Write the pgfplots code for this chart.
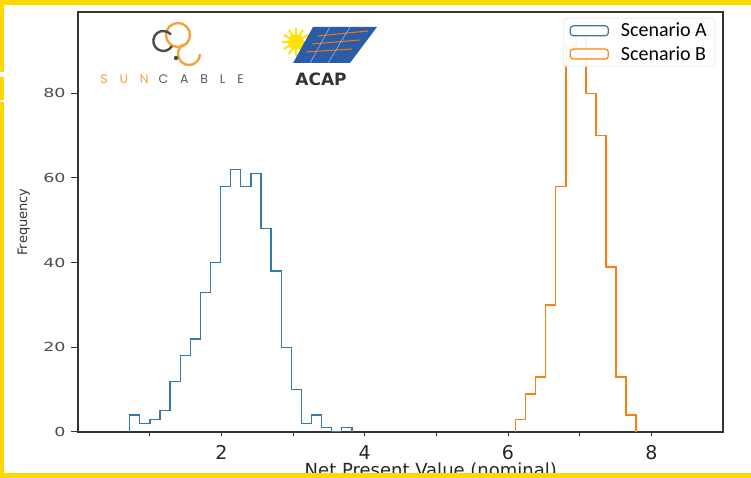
\documentclass[border=0pt]{standalone}
\usepackage{pgfplots}
\pgfplotsset{compat=1.18}
\usepackage{pgfplotstable}
\usepackage{fontspec}
\setmainfont{DejaVu Sans}
\newfontfamily\ytickfont[FakeStretch=1.4]{DejaVu Sans}
\newfontfamily\carlito{Carlito}
\newfontfamily\poppins{Poppins}
\definecolor{tabblue}{HTML}{1F77B4}
\definecolor{taborange}{HTML}{FF7F0E}
\definecolor{ybord}{RGB}{255,216,0}
\definecolor{acapblue}{HTML}{2A5CA8}
\definecolor{sunorange}{HTML}{F2A33A}
\colorlet{colA}{tabblue!75!gray}

\pgfplotstableread{
x y
0.721 0
0.721 4
0.862 2
1.003 3
1.144 5
1.285 12
1.426 18
1.567 22
1.708 33
1.849 40
1.990 58
2.131 62
2.272 58
2.413 61
2.554 48
2.695 38
2.836 20
2.977 10
3.117 2
3.258 4
3.399 1
3.540 0
3.681 1
3.822 0
}\histA

\pgfplotstableread{
x y
6.107 0
6.107 3
6.247 9
6.387 13
6.527 30
6.667 58
6.808 91
6.948 94
7.088 80
7.228 70
7.368 39
7.508 13
7.648 4
7.788 0
}\histB

\begin{document}
\begin{tikzpicture}
\begin{axis}[
  at={(78pt,46pt)}, anchor=south west,
  scale only axis, width=645pt, height=420pt,
  xmin=0, xmax=9, ymin=0, ymax=99.2,
  axis line style={black!80, line width=1.2pt},
  xtick={1,2,3,4,5,6,7,8},
  xticklabels={,2,,4,,6,,8},
  ytick={0,20,40,60,80},
  /pgf/number format/assume math mode=true,
  tick align=outside,
  xtick pos=bottom, ytick pos=left,
  x tick style={black!80, line width=1pt, /pgfplots/major tick length=4pt},
  y tick style={black!80, line width=1pt, /pgfplots/major tick length=7pt},
  yticklabel style={font=\ytickfont\fontsize{12.5}{14}\selectfont, text=black!70, inner sep=0pt, anchor=east, xshift=-8pt},
  xticklabel style={font=\fontsize{19}{21}\selectfont, text=black!85, inner sep=0pt, anchor=north, yshift=-9pt},
  ylabel={Frequency},
  ylabel style={at={(axis description cs:-0.084,0.5)}, anchor=center, font=\fontsize{13}{15}\selectfont, text=black!80},
  xlabel={Net Present Value (nominal)},
  xlabel style={at={(axis description cs:0.547,0)}, anchor=north, inner sep=0pt, yshift=-31pt, font=\fontsize{18}{20}\selectfont, text=black!85},
  legend style={at={(0.9876,0.9857)}, anchor=north east, draw=black!15, rounded corners=3pt,
    fill=white, fill opacity=0.9, text opacity=1, font=\carlito\fontsize{20}{21}\selectfont,
    inner xsep=6pt, inner ysep=3pt, row sep=4pt,
    /tikz/every odd column/.style={column sep=10pt}},
  legend cell align=left,
  legend image code/.code={\draw[#1, fill=white, line width=1.2pt] (0pt,-5pt) rectangle (38pt,5pt);},
]
\addplot[const plot mark left, color=colA, line width=1.3pt] table[x=x,y=y] {\histA};
\addlegendentry{Scenario A}
\addplot[const plot mark left, color=taborange, line width=1.3pt] table[x=x,y=y] {\histB};
\addlegendentry{Scenario B}
\end{axis}

\begin{scope}[shift={(0pt,478pt)}, x=1pt, y=-1pt]
  % Sun Cable logo
  \draw[sunorange, line width=2.4pt] (178,35) circle (12);
  \draw[sunorange, line width=2.4pt] (200,54) arc (0:240:11);
  \draw[black!70, line width=2.4pt] (172,46) arc (30:320:10);
  \fill[black!70] (176,58) circle (2.2);
  \node[inner sep=0pt] at (172,79) {\poppins\fontsize{12.5}{14}\selectfont\addfontfeature{LetterSpace=95}\textcolor{sunorange}{SUN}\hspace{10pt}\textcolor{black!65}{CABLE}};
  % ACAP logo
  \foreach \a in {0,30,...,330} \draw[yellow!85!orange, line width=2pt] (296,42) -- ++(\a:14);
  \fill[yellow!85!orange] (296,42) circle (8);
  \fill[acapblue] (313,27) -- (377,27) -- (350,63) -- (293,63) -- cycle;
  \draw[orange!90!red, line width=1pt] (318,36) -- (368,31);
  \draw[orange!90!red, line width=1pt] (312,44) -- (360,40);
  \draw[orange!90!red, line width=1pt] (306,52) -- (352,49);
  \draw[white!60!acapblue, line width=0.5pt] (330,27) -- (310,63);
  \draw[white!60!acapblue, line width=0.5pt] (350,27) -- (328,63);
  \node[inner sep=0pt, text=black!80] at (321,79) {\fontsize{17}{19}\selectfont\bfseries ACAP};
  % yellow frame
  \fill[ybord] (0,0) rectangle (751,5);
  \fill[ybord] (0,0) rectangle (4,478);
  \fill[ybord] (0,473) rectangle (751,478);
  \fill[white] (0,72) rectangle (4,77);
  \fill[white] (0,100) rectangle (4,102);
\end{scope}
\pgfresetboundingbox
\useasboundingbox (0,0) rectangle (751pt,478pt);
\end{tikzpicture}
\end{document}
